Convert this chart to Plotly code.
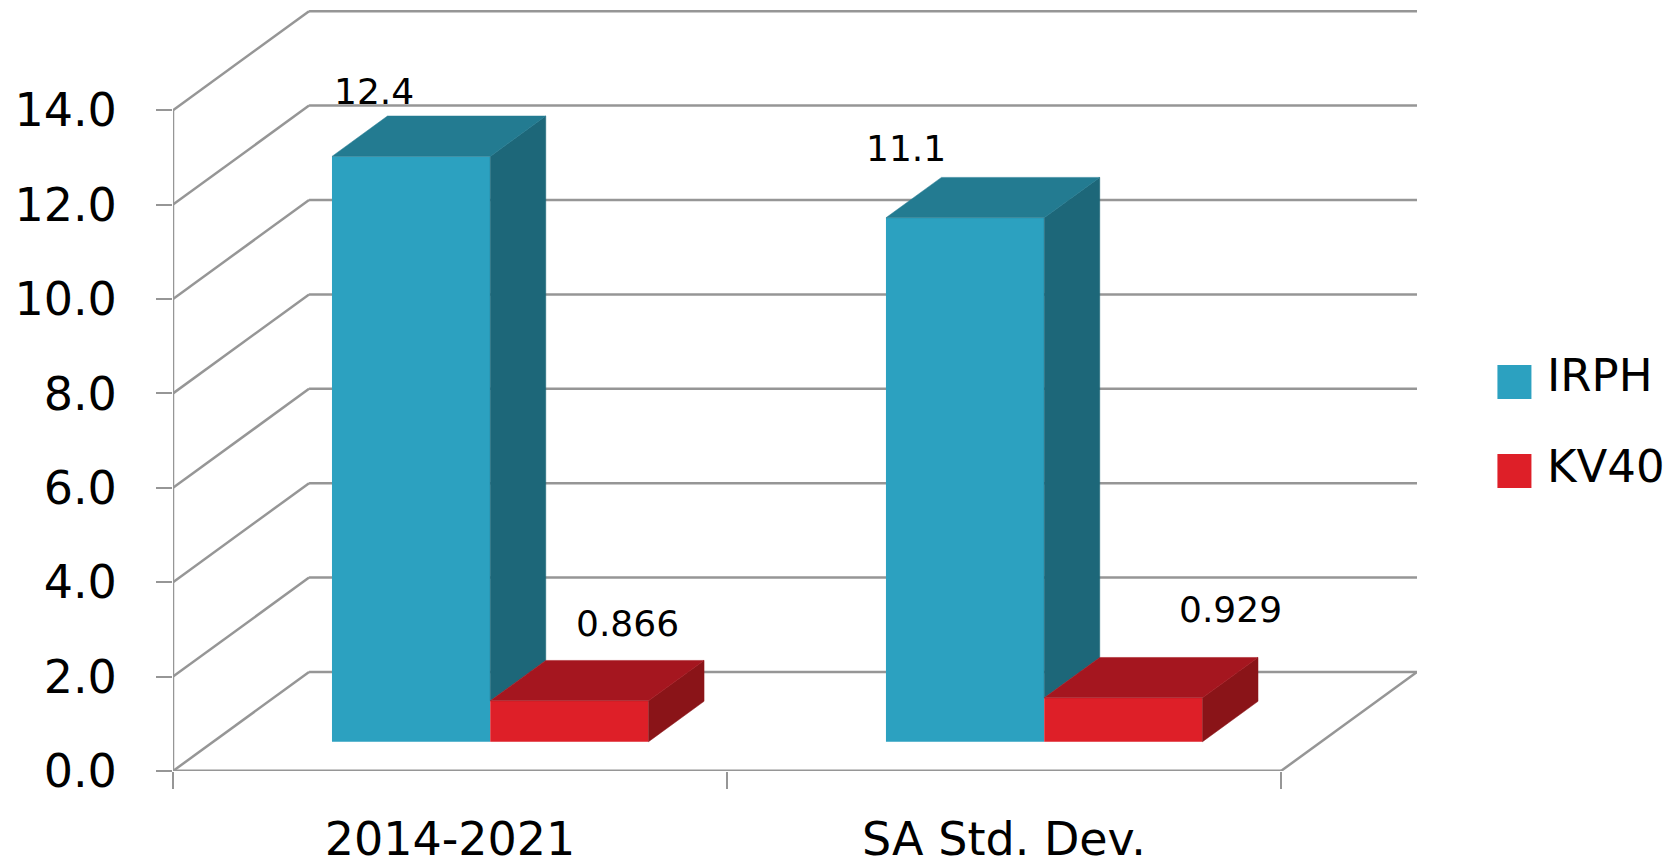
import plotly.graph_objects as go

categories = ["2014-2021", "SA Std. Dev."]
series_names = ["IRPH", "KV40"]
irph_values = [12.4, 11.1]
kv40_values = [0.866, 0.929]
value_ticks = [0, 2, 4, 6, 8, 10, 12, 14]
tick_labels = ["0.0", "2.0", "4.0", "6.0", "8.0", "10.0", "12.0", "14.0"]

# page is offset by the browser's 8px body margin
PAGE = 8
W, H = 1675 - PAGE, 864 - PAGE
PL, PR = 173, 1416.6
PT, PB = 8, 771
PX_PER_CAT = 553.8
PX_PER_VAL = 47.2
DX = (PR - PL) / PX_PER_CAT - 2
DY = 99 / PX_PER_VAL
FONT = "DejaVu Sans"
GRID = "#969696"
BAR_W = 1 / 3.5
D0, D1 = 0.296, 0.704
FOLD = 0.75 * BAR_W


def proj(x, v, d):
    return x + d * DX, v + d * DY


def poly(points, color):
    xs = [p[0] for p in points] + [points[0][0]]
    ys = [p[1] for p in points] + [points[0][1]]
    return go.Scatter(x=xs, y=ys, mode="lines", fill="toself", fillcolor=color,
                      line=dict(color=color, width=0.5), hoverinfo="skip", showlegend=False)


fig = go.Figure()
shapes = []


def seg(a, b, width=2.5):
    shapes.append(dict(type="line", xref="x", yref="y", layer="below",
                       x0=a[0], y0=a[1], x1=b[0], y1=b[1],
                       line=dict(color=GRID, width=width)))


for v in value_ticks:
    seg(proj(0, v, 0), proj(0, v, 1))
    seg(proj(0, v, 1), proj(2, v, 1))
seg(proj(0, 0, 0), proj(0, 14, 0))
seg(proj(0, 0, 0), proj(2, 0, 0), 3)
seg(proj(2, 0, 0), proj(2, 0, 1))

styles = [("#2CA1C0", "#237B91", "#1D6779"), ("#DE1F28", "#A5161F", "#8A1418")]
label_shift = [[(-37, 65), (-59, 69)], [(58, 77), (107, 88)]]
annotations = []
floor = proj(0, 0, D0)[1]
front_dx = proj(0, 0, D0)[0]
all_vals = [irph_values, kv40_values]

for s, (name, vals) in enumerate(zip(series_names, all_vals)):
    front, top, side = styles[s]
    lefts = [c + FOLD + s * BAR_W + front_dx for c in range(len(categories))]
    fig.add_trace(go.Bar(x=[l + BAR_W / 2 for l in lefts], y=vals, base=[floor] * len(vals),
                         width=BAR_W, name=name, showlegend=False,
                         marker=dict(color=front, line=dict(width=0))))
    for c, v in enumerate(vals):
        x0 = c + FOLD + s * BAR_W
        x1 = x0 + BAR_W
        # the part of a side face below the next bar's top is hidden by that bar
        hidden = all_vals[s + 1][c] if s + 1 < len(all_vals) else 0
        fig.add_trace(poly([proj(x1, hidden, D0), proj(x1, v, D0), proj(x1, v, D1), proj(x1, hidden, D1)], side))
        fig.add_trace(poly([proj(x0, v, D0), proj(x1, v, D0), proj(x1, v, D1), proj(x0, v, D1)], top))
        cx, cy = proj((x0 + x1) / 2, v, D0)
        annotations.append(dict(x=cx, y=cy, xref="x", yref="y", text=f"{v:g}", showarrow=False,
                                xshift=label_shift[s][c][0], yshift=label_shift[s][c][1],
                                font=dict(family=FONT, size=36, color="black")))

legend_swatch = [(365, 399), (454, 488)]
legend_text_y = [375, 466]
for (y0, y1), ty, name, st in zip(legend_swatch, legend_text_y, series_names, styles):
    shapes.append(dict(type="rect", xref="paper", yref="paper", line=dict(width=0),
                       fillcolor=st[0],
                       x0=(1497 - PL) / (PR - PL), x1=(1531 - PL) / (PR - PL),
                       y0=(PB - y1) / (PB - PT), y1=(PB - y0) / (PB - PT)))
    annotations.append(dict(xref="paper", yref="paper", x=(1545 - PL) / (PR - PL),
                            y=(PB - ty) / (PB - PT), xanchor="left", yanchor="middle",
                            text=name, showarrow=False,
                            font=dict(family=FONT, size=45, color="black")))

fig.update_layout(
    width=W, height=H, autosize=False, paper_bgcolor="white", plot_bgcolor="white",
    margin=dict(l=PL - PAGE, r=1675 - PR, t=PT - PAGE, b=864 - PB, pad=0, autoexpand=False),
    showlegend=False, shapes=shapes, annotations=annotations, barmode="overlay",
    xaxis=dict(range=[0, 2 + DX], tickmode="array", tickvals=[0.5, 1.5], ticktext=categories,
               ticks="", showgrid=False, zeroline=False, showline=False, ticklabelstandoff=37,
               automargin=False,
               tickfont=dict(family=FONT, size=46, color="black"),
               minor=dict(tickmode="array", tickvals=[0, 1, 2], ticks="outside", ticklen=17,
                          tickwidth=2, tickcolor=GRID, showgrid=False)),
    yaxis=dict(range=[0, (PB - PT) / PX_PER_VAL], tickmode="array", tickvals=value_ticks,
               ticktext=tick_labels, ticks="outside", ticklen=16, tickwidth=2, tickcolor=GRID,
               showgrid=False, zeroline=False, showline=False, ticklabelstandoff=30,
               automargin=False,
               tickfont=dict(family=FONT, size=46, color="black")),
)
fig.write_html("out.html", config={"displayModeBar": False})
